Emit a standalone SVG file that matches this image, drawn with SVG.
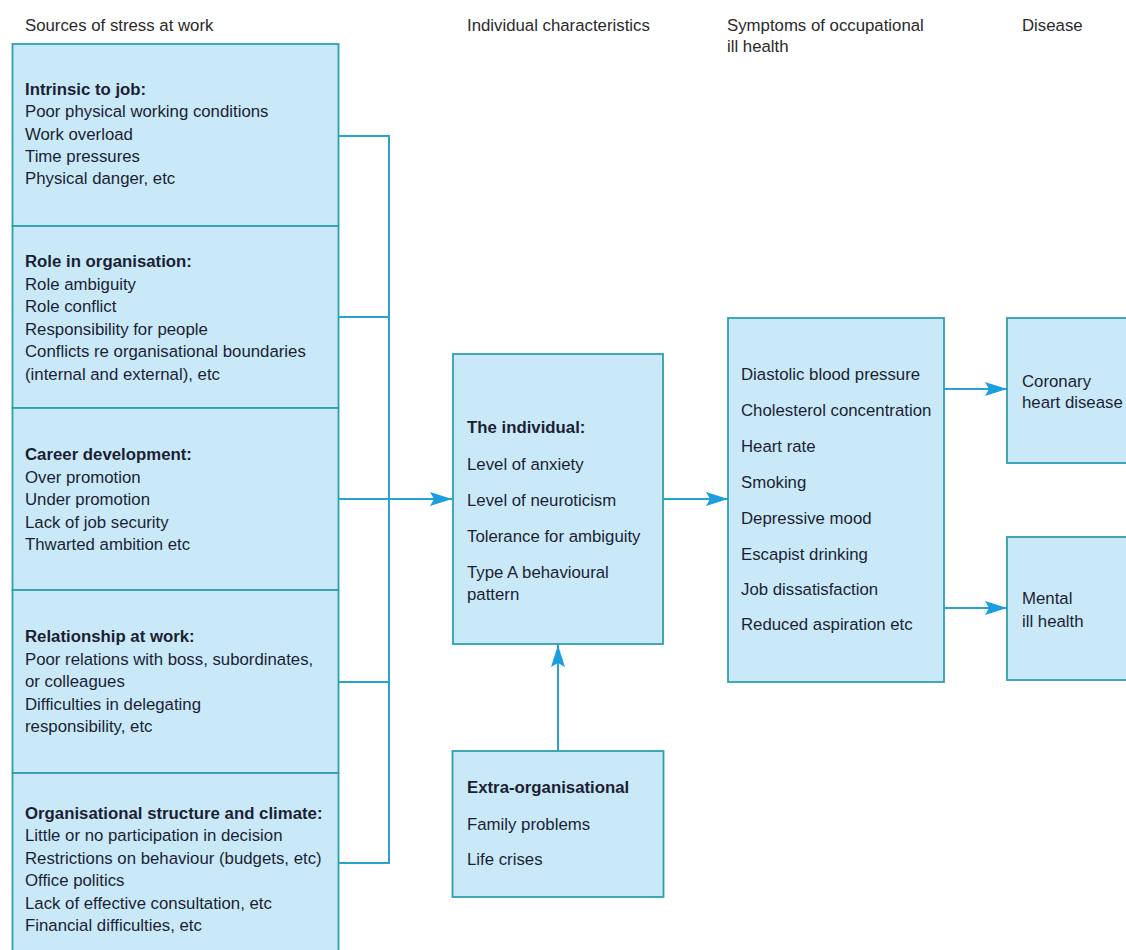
<svg xmlns="http://www.w3.org/2000/svg" width="1126" height="950" viewBox="0 0 1126 950">
<defs>
<style>
text{font-family:"Liberation Sans",Arial,sans-serif;font-size:16.8px;fill:#1c1f33}
.hd{font-size:16.8px;fill:#2a2a2a}
.b{font-weight:bold}
.box{fill:#c9e9f9;stroke:#2f9fae;stroke-width:1.8}
.ln{fill:none;stroke:#2aa3cc;stroke-width:2}
</style>
<marker id="ah" viewBox="0 0 22 14" refX="22" refY="7" markerWidth="22" markerHeight="14" markerUnits="userSpaceOnUse" orient="auto">
<path d="M0,0 L22,7 L0,14 L4,7 Z" fill="#1b9fe0"/>
</marker>
</defs>
<rect width="1126" height="950" fill="#ffffff"/>
<g id="headers">
<text class="hd" x="25" y="31">Sources of stress at work</text>
<text class="hd" x="467" y="31">Individual characteristics</text>
<text class="hd" x="727" y="31">Symptoms of occupational</text>
<text class="hd" x="727" y="52">ill health</text>
<text class="hd" x="1022" y="31">Disease</text>
</g>
<g id="connectors">
<polyline class="ln" points="338,136 389,136 389,863 338,863"/>
<line class="ln" x1="338" y1="317" x2="389" y2="317"/>
<line class="ln" x1="338" y1="499" x2="389" y2="499"/>
<line class="ln" x1="338" y1="682" x2="389" y2="682"/>
<line class="ln" x1="389" y1="499" x2="452" y2="499" marker-end="url(#ah)"/>
<line class="ln" x1="663" y1="499" x2="728" y2="499" marker-end="url(#ah)"/>
<line class="ln" x1="944" y1="389" x2="1007" y2="389" marker-end="url(#ah)"/>
<line class="ln" x1="944" y1="608" x2="1007" y2="608" marker-end="url(#ah)"/>
<line class="ln" x1="558" y1="751" x2="558" y2="645" marker-end="url(#ah)"/>
</g>
<g id="intrinsic">
<rect class="box" x="12.5" y="44" width="326" height="182"/>
<text x="25" y="95"><tspan class="b">Intrinsic to job:</tspan><tspan x="25" dy="22.3">Poor physical working conditions</tspan><tspan x="25" dy="22.3">Work overload</tspan><tspan x="25" dy="22.3">Time pressures</tspan><tspan x="25" dy="22.3">Physical danger, etc</tspan></text>
</g>
<g id="role">
<rect class="box" x="12.5" y="226" width="326" height="182"/>
<text x="25" y="267"><tspan class="b">Role in organisation:</tspan><tspan x="25" dy="22.5">Role ambiguity</tspan><tspan x="25" dy="22.5">Role conflict</tspan><tspan x="25" dy="22.5">Responsibility for people</tspan><tspan x="25" dy="22.5">Conflicts re organisational boundaries</tspan><tspan x="25" dy="22.5">(internal and external), etc</tspan></text>
</g>
<g id="career">
<rect class="box" x="12.5" y="408" width="326" height="182"/>
<text x="25" y="460"><tspan class="b">Career development:</tspan><tspan x="25" dy="22.6">Over promotion</tspan><tspan x="25" dy="22.6">Under promotion</tspan><tspan x="25" dy="22.6">Lack of job security</tspan><tspan x="25" dy="22.6">Thwarted ambition etc</tspan></text>
</g>
<g id="relationship">
<rect class="box" x="12.5" y="590" width="326" height="183"/>
<text x="25" y="642"><tspan class="b">Relationship at work:</tspan><tspan x="25" dy="22.6">Poor relations with boss, subordinates,</tspan><tspan x="25" dy="22.6">or colleagues</tspan><tspan x="25" dy="22.6">Difficulties in delegating</tspan><tspan x="25" dy="22.6">responsibility, etc</tspan></text>
</g>
<g id="structure">
<rect class="box" x="12.5" y="773" width="326" height="190"/>
<text x="25" y="819"><tspan class="b">Organisational structure and climate:</tspan><tspan x="25" dy="22.4">Little or no participation in decision</tspan><tspan x="25" dy="22.4">Restrictions on behaviour (budgets, etc)</tspan><tspan x="25" dy="22.4">Office politics</tspan><tspan x="25" dy="22.4">Lack of effective consultation, etc</tspan><tspan x="25" dy="22.4">Financial difficulties, etc</tspan></text>
</g>
<g id="individual">
<rect class="box" x="453" y="354" width="210" height="290"/>
<text x="467" y="433"><tspan class="b">The individual:</tspan><tspan x="467" y="470">Level of anxiety</tspan><tspan x="467" y="506">Level of neuroticism</tspan><tspan x="467" y="542">Tolerance for ambiguity</tspan><tspan x="467" y="578">Type A behavioural</tspan><tspan x="467" y="600">pattern</tspan></text>
</g>
<g id="extra">
<rect class="box" x="452.5" y="751" width="211" height="146"/>
<text x="467" y="793"><tspan class="b">Extra-organisational</tspan><tspan x="467" y="830">Family problems</tspan><tspan x="467" y="865">Life crises</tspan></text>
</g>
<g id="symptoms">
<rect class="box" x="728" y="318" width="216" height="364"/>
<text x="741" y="380"><tspan>Diastolic blood pressure</tspan><tspan x="741" y="416">Cholesterol concentration</tspan><tspan x="741" y="452">Heart rate</tspan><tspan x="741" y="488">Smoking</tspan><tspan x="741" y="524">Depressive mood</tspan><tspan x="741" y="560">Escapist drinking</tspan><tspan x="741" y="595">Job dissatisfaction</tspan><tspan x="741" y="630">Reduced aspiration etc</tspan></text>
</g>
<g id="coronary">
<rect class="box" x="1007" y="318" width="130" height="145"/>
<text x="1022" y="387"><tspan>Coronary</tspan><tspan x="1022" y="408">heart disease</tspan></text>
</g>
<g id="mental">
<rect class="box" x="1007" y="537" width="130" height="143"/>
<text x="1022" y="604"><tspan>Mental</tspan><tspan x="1022" y="627">ill health</tspan></text>
</g>
</svg>
